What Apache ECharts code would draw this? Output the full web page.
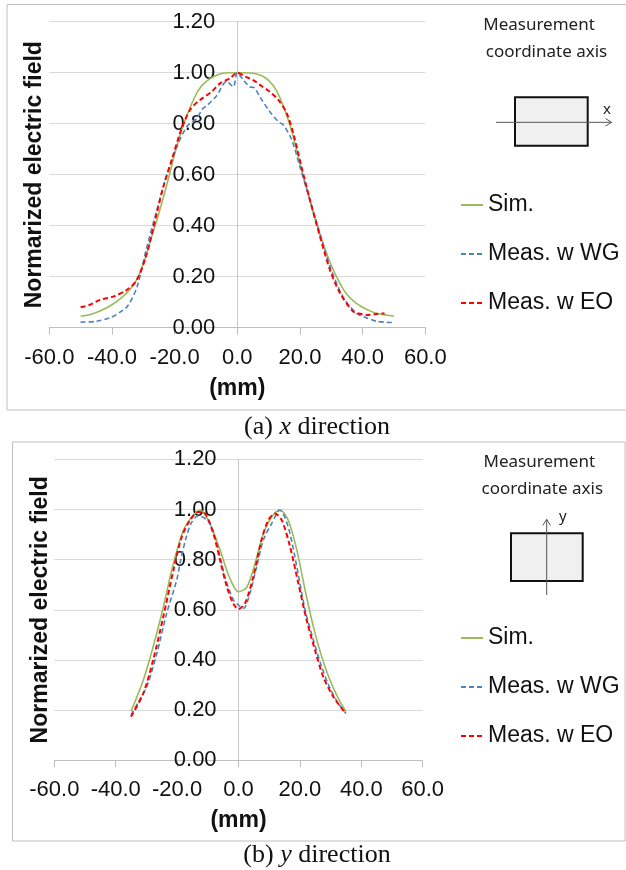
<!DOCTYPE html>
<html>
<head>
<meta charset="utf-8">
<script src="https://cdn.jsdelivr.net/npm/echarts@6/dist/echarts.min.js"></script>
<style>
html,body{margin:0;padding:0;background:#fff;}
#chart{width:626px;height:870px;}
</style>
</head>
<body>
<div id="chart"></div>
<script>
// ---------- Data ----------
var xTicks = [-60, -40, -20, 0, 20, 40, 60];
var yTicks = [0, 0.2, 0.4, 0.6, 0.8, 1.0, 1.2];
var seriesNames = ['Sim.', 'Meas. w WG', 'Meas. w EO'];

// (a) x direction
var simA_x = [-50,-47.5,-45,-42.5,-40,-37.5,-35,-32.5,-30,-27.5,-25,-22.5,-20,-17.5,-15,-12.5,-10,-7.5,-5,-2.5,0,2.5,5,7.5,10,12.5,15,17.5,20,22.5,25,27.5,30,32.5,35,37.5,40,42.5,45,47.5,50];
var simA_y = [0.045,0.05,0.06,0.073,0.09,0.112,0.14,0.18,0.25,0.35,0.45,0.56,0.68,0.785,0.865,0.93,0.965,0.985,0.997,1.0,1.0,1.0,0.998,0.99,0.97,0.93,0.86,0.765,0.645,0.53,0.42,0.325,0.245,0.18,0.13,0.1,0.08,0.065,0.055,0.05,0.045];

var wgA_x = [-50,-45,-40,-37.5,-35,-32,-29,-25.7,-22.5,-19.3,-16,-13,-11,-9.8,-6.6,-3.4,-1.3,0,2,4,5.5,7.2,10.4,13.1,14.7,17.4,20,23.2,26.4,29.6,33.8,38.1,41,44.5,50];
var wgA_y = [0.022,0.025,0.042,0.06,0.085,0.16,0.31,0.46,0.60,0.71,0.79,0.82,0.86,0.87,0.91,0.965,0.945,1.0,0.97,0.945,0.94,0.905,0.847,0.808,0.795,0.736,0.63,0.50,0.37,0.24,0.12,0.056,0.04,0.025,0.02];

var eoA_x = [-50,-47,-43.8,-39.6,-35.3,-32.1,-28.9,-25.7,-23.6,-20.9,-18.3,-15.1,-11.9,-8.2,-5.5,-2.3,0,2.5,5.1,7.5,10.4,13.1,15.8,17.9,20.5,23.2,26.4,29.6,32.8,37,39,41.3,44.5,47];
var eoA_y = [0.08,0.09,0.109,0.122,0.148,0.187,0.29,0.449,0.553,0.658,0.762,0.854,0.893,0.925,0.958,0.978,1.0,0.985,0.971,0.95,0.925,0.893,0.84,0.76,0.63,0.50,0.357,0.226,0.135,0.063,0.055,0.05,0.054,0.056];

// (b) y direction
var simB_x = [-35,-31,-27.8,-24.5,-21.2,-17.9,-14.7,-12.5,-9.3,-6,-2.8,0,2.7,5.4,8.1,10.8,13.5,16.2,19,21.7,24.4,27.1,29.8,32.5,35];
var simB_y = [0.195,0.32,0.453,0.61,0.785,0.918,0.977,0.997,0.944,0.838,0.725,0.672,0.69,0.785,0.904,0.97,0.998,0.957,0.838,0.678,0.532,0.413,0.32,0.247,0.195];

var wgB_x = [-35,-32.5,-29.9,-26.6,-23.4,-20.1,-18.8,-17,-15.2,-13.1,-10.9,-9.3,-7.1,-4.4,-1.7,0,1.6,3.7,5.9,8.1,10.8,13.5,16.2,19,21.7,24.4,27.1,29.8,32.5,35];
var wgB_y = [0.18,0.235,0.293,0.426,0.586,0.72,0.80,0.89,0.95,0.975,0.964,0.944,0.865,0.73,0.64,0.619,0.605,0.665,0.771,0.878,0.944,0.997,0.93,0.771,0.599,0.479,0.373,0.287,0.227,0.187];

var eoB_x = [-35,-31,-27.8,-24.5,-21.2,-18.5,-15.8,-13.1,-10.9,-8.2,-6,-3.8,-1.7,0,2.1,4.8,7.5,9.7,11.9,14.1,16.8,19.5,22.2,24.9,27.6,30.9,34.1,35];
var eoB_y = [0.174,0.267,0.40,0.572,0.758,0.89,0.957,0.99,0.984,0.904,0.798,0.692,0.625,0.603,0.625,0.731,0.878,0.957,0.984,0.957,0.851,0.705,0.559,0.44,0.333,0.253,0.2,0.187];

// ---------- Helpers ----------
function zip(xs, ys){ return xs.map(function(x,i){ return [x, ys[i]]; }); }
var FONT = 'Liberation Sans, Arial, sans-serif';
var SERIF = 'Liberation Serif, Times New Roman, serif';
var colors = {sim:'#9BBB59', wg:'#4F81BD', eo:'#FF0000'};

function xAxisCfg(gi){
  return {
    gridIndex: gi, type:'value', min: xTicks[0], max: xTicks[xTicks.length-1], interval: 20,
    axisLine:{show:true, onZero:false, lineStyle:{color:'#bfbfbf', width:1}},
    axisTick:{show:true, length:7, inside:false, lineStyle:{color:'#bfbfbf'}},
    axisLabel:{formatter:function(v){return v.toFixed(1);}, color:'#111', fontSize:22, fontFamily:FONT, margin:19},
    splitLine:{show:false},
    name:'(mm)', nameLocation:'middle', nameGap:49,
    nameTextStyle:{fontSize:23, fontWeight:'bold', color:'#111', fontFamily:FONT}
  };
}
function yAxisCfg(gi, off, gap){
  return {
    gridIndex: gi, type:'value', position:'left', offset: -off,
    min: yTicks[0], max: yTicks[yTicks.length-1], interval: 0.2,
    axisLine:{show:true, onZero:false, lineStyle:{color:'#c8c8c8', width:1}},
    axisTick:{show:false},
    axisLabel:{formatter:function(v){return v.toFixed(2);}, color:'#111', fontSize:22, fontFamily:FONT, margin:22},
    splitLine:{show:true, lineStyle:{color:'#d9d9d9', width:1}},
    name:'Normarized electric field', nameLocation:'middle', nameRotate:90, nameGap:gap,
    nameTextStyle:{fontSize:23, fontWeight:'bold', color:'#111', fontFamily:FONT}
  };
}
function mk(name, gi, data, color, dashed, width){
  return {
    name:name, type:'line', xAxisIndex:gi, yAxisIndex:gi, data:data,
    symbol:'none', smooth:0.3,
    lineStyle:{color:color, width:width, type: dashed ? [5,3] : 'solid'},
    itemStyle:{color:color}, animation:false
  };
}
function legendCfg(top){
  return {
    orient:'vertical', left:455, top:top, itemWidth:22, itemHeight:14, itemGap:23,
    data: seriesNames,
    itemStyle:{color:'transparent', borderWidth:0, opacity:0},
    textStyle:{fontSize:23, color:'#111', fontFamily:FONT, lineHeight:26},
    selectedMode:false
  };
}

var chart = echarts.init(document.getElementById('chart'), null, {renderer:'canvas'});
chart.setOption({
  animation:false,
  backgroundColor:'#fff',
  textStyle:{fontFamily:FONT},
  grid:[
    {left:49.3, top:21.7, width:376, height:306, containLabel:false, outerBoundsMode:'none'},
    {left:54.3, top:459.3, width:368.4, height:301, containLabel:false, outerBoundsMode:'none'}
  ],
  xAxis:[xAxisCfg(0), xAxisCfg(1)],
  yAxis:[yAxisCfg(0, 188, 191), yAxisCfg(1, 184.3, 186)],
  legend:[legendCfg(187), legendCfg(620)],
  series:[
    mk(seriesNames[0],0,zip(simA_x,simA_y),colors.sim,false,1.6),
    mk(seriesNames[1],0,zip(wgA_x,wgA_y),colors.wg,true,1.6),
    mk(seriesNames[2],0,zip(eoA_x,eoA_y),colors.eo,true,2),
    mk(seriesNames[0],1,zip(simB_x,simB_y),colors.sim,false,1.6),
    mk(seriesNames[1],1,zip(wgB_x,wgB_y),colors.wg,true,1.6),
    mk(seriesNames[2],1,zip(eoB_x,eoB_y),colors.eo,true,2)
  ],
  graphic:[
    {type:'rect', shape:{x:7, y:4.5, width:625, height:405.5}, style:{fill:'none', stroke:'#bfbfbf', lineWidth:1}, z:-1, silent:true},
    {type:'rect', shape:{x:12.5, y:442, width:612.5, height:399}, style:{fill:'none', stroke:'#bfbfbf', lineWidth:1}, z:-1, silent:true},
    {type:'text', style:{x:317, y:427, text:'(a) {i|x} direction', textAlign:'center', textVerticalAlign:'middle', fontSize:26, fontFamily:SERIF, fill:'#111', rich:{i:{fontStyle:'italic', fontSize:26, fontFamily:SERIF}}}},
    {type:'text', style:{x:317, y:855, text:'(b) {i|y} direction', textAlign:'center', textVerticalAlign:'middle', fontSize:26, fontFamily:SERIF, fill:'#111', rich:{i:{fontStyle:'italic', fontSize:26, fontFamily:SERIF}}}},
    {type:'text', style:{x:539, y:25, text:'Measurement', textAlign:'center', textVerticalAlign:'middle', fontSize:17, fontFamily:'Noto Sans, sans-serif', fill:'#222'}},
    {type:'text', style:{x:546.5, y:51.7, text:'coordinate axis', textAlign:'center', textVerticalAlign:'middle', fontSize:17, fontFamily:'Noto Sans, sans-serif', fill:'#222'}},
    {type:'rect', shape:{x:515, y:97.3, width:72.7, height:48.4}, style:{fill:'#f0f0f0', stroke:'#111', lineWidth:2}},
    {type:'line', shape:{x1:496, y1:122.3, x2:611.5, y2:122.3}, style:{stroke:'#555', lineWidth:1}},
    {type:'polyline', shape:{points:[[605.5,118.5],[611.5,122.3],[605.5,126.1]]}, style:{stroke:'#555', lineWidth:1, fill:'none'}},
    {type:'text', style:{x:607, y:110, text:'x', textAlign:'center', textVerticalAlign:'middle', fontSize:15, fontFamily:'Noto Sans, sans-serif', fill:'#222'}},
    {type:'text', style:{x:539.3, y:462.3, text:'Measurement', textAlign:'center', textVerticalAlign:'middle', fontSize:17, fontFamily:'Noto Sans, sans-serif', fill:'#222'}},
    {type:'text', style:{x:542.3, y:489, text:'coordinate axis', textAlign:'center', textVerticalAlign:'middle', fontSize:17, fontFamily:'Noto Sans, sans-serif', fill:'#222'}},
    {type:'rect', shape:{x:511, y:533.3, width:71.7, height:47.7}, style:{fill:'#f0f0f0', stroke:'#111', lineWidth:2}},
    {type:'line', shape:{x1:546.7, y1:595, x2:546.7, y2:519.3}, style:{stroke:'#555', lineWidth:1}},
    {type:'polyline', shape:{points:[[543,525.3],[546.7,519.3],[550.4,525.3]]}, style:{stroke:'#555', lineWidth:1, fill:'none'}},
    {type:'text', style:{x:562.7, y:517, text:'y', textAlign:'center', textVerticalAlign:'middle', fontSize:15, fontFamily:'Noto Sans, sans-serif', fill:'#222'}}
  ]
});
</script>
</body>
</html>
